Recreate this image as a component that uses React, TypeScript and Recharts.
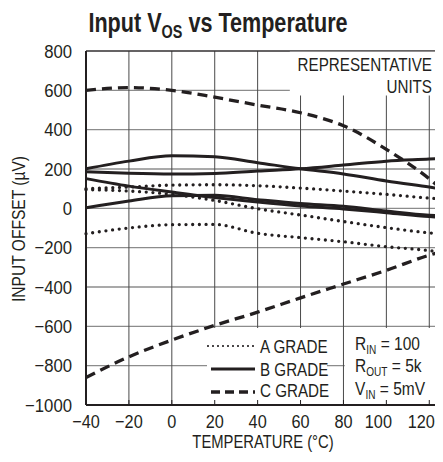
import {
  CartesianGrid,
  Line,
  LineChart,
  ReferenceArea,
  ReferenceLine,
  XAxis,
  YAxis,
} from "recharts";

const FONT = '"Liberation Sans", Arial, sans-serif';
const INK = "#231f20";

// temperature (°C) and offset (µV)
const temperatures = [-40, -20, 0, 20, 40, 60, 80, 100, 120, 125];
const gradeA1 = [100, 108, 118, 120, 115, 103, 88, 71, 52, 48];
const gradeA2 = [95, 88, 71, 40, -2, -34, -67, -98, -125, -130];
const gradeA3 = [-129, -100, -83, -82, -127, -149, -170, -195, -215, -222];
const gradeB1 = [201, 240, 267, 262, 232, 201, 175, 139, 108, 100];
const gradeB2 = [186, 178, 174, 177, 190, 201, 220, 240, 251, 254];
const gradeB3 = [151, 113, 83, 55, 32, 12, -3, -22, -42, -46];
const gradeB4 = [3, 37, 64, 66, 44, 24, 10, -14, -35, -38];
const gradeC1 = [600, 614, 600, 565, 525, 486, 420, 300, 150, 105];
const gradeC2 = [-860, -755, -670, -595, -528, -455, -385, -315, -238, -222];

const xTicks = [-40, -20, 0, 20, 40, 60, 80, 100, 120];
const yTicks = [-1000, -800, -600, -400, -200, 0, 200, 400, 600, 800];

const data = temperatures.map((t, i) => ({
  t,
  a1: gradeA1[i],
  a2: gradeA2[i],
  a3: gradeA3[i],
  b1: gradeB1[i],
  b2: gradeB2[i],
  b3: gradeB3[i],
  b4: gradeB4[i],
  c1: gradeC1[i],
  c2: gradeC2[i],
}));

const fmt = (v: number) => (v < 0 ? "\u2212" + Math.abs(v) : String(v));

const dotted = { strokeWidth: 3.3, strokeDasharray: "0 6.7", strokeLinecap: "round" as const };
const solid = { strokeWidth: 3 };
const dashed = { strokeWidth: 3.3, strokeDasharray: "10 6" };

// condensed look: Arial metrics squeezed horizontally
const Narrow = ({ x, y, size = 19, sx = 0.8, anchor = "start", weight, rotate, children }: any) => (
  <text
    transform={`translate(${x} ${y})${rotate ? ` rotate(${rotate})` : ""} scale(${sx} 1)`}
    fontSize={size}
    fontWeight={weight}
    textAnchor={anchor}
    fontFamily={FONT}
    fill={INK}
  >
    {children}
  </text>
);

// the last two labels sit a little left of their grid lines in the original
const xShift = (v: number) => (v >= 100 ? -8 : 0);

const XTick = ({ x, y, payload }: any) => (
  <text
    transform={`translate(${x + xShift(payload.value)} ${y}) scale(0.88 1)`}
    dy={12.5}
    textAnchor="middle"
    fontSize={18.5}
    fontFamily={FONT}
    fill={INK}
  >
    {fmt(payload.value)}
  </text>
);

const YTick = ({ x, y, payload }: any) => (
  <text
    transform={`translate(${x} ${y}) scale(0.88 1)`}
    dy={6.8}
    textAnchor="end"
    fontSize={19}
    fontFamily={FONT}
    fill={INK}
  >
    {fmt(payload.value)}
  </text>
);

export default function App() {
  return (
    <div style={{ position: "relative", width: 435, height: 454 }}>
      <LineChart
        width={435}
        height={454}
        data={data}
        margin={{ top: 43, right: 3, left: 0, bottom: 0 }}
      >
        <CartesianGrid vertical={false} stroke="#8c8c8c" strokeWidth={1.3} />
        <CartesianGrid horizontal={false} stroke="#4a4a4a" strokeWidth={1} />
        <ReferenceArea x1={55} x2={125} y1={574} y2={800} fill="#fff" fillOpacity={1} stroke="none" />
        <ReferenceArea x1={16.4} x2={72.3} y1={-1000} y2={-608} fill="#fff" fillOpacity={1} stroke="none" />
        <ReferenceArea x1={80.6} x2={125} y1={-1000} y2={-608} fill="#fff" fillOpacity={1} stroke="none" />
        <ReferenceLine y={800} stroke={INK} strokeWidth={1.2} />
        <ReferenceLine x={125} stroke={INK} strokeWidth={1.5} />
        <XAxis
          dataKey="t"
          type="number"
          domain={[-40, 125]}
          ticks={xTicks}
          height={57}
          tickSize={-5}
          tickMargin={15}
          axisLine={{ stroke: INK, strokeWidth: 2 }}
          tickLine={{ stroke: INK }}
          tick={<XTick />}
        />
        <XAxis
          xAxisId="top"
          orientation="top"
          dataKey="t"
          type="number"
          domain={[-40, 125]}
          ticks={xTicks}
          height={0}
          tickSize={-5}
          tick={false}
          axisLine={false}
          tickLine={{ stroke: INK }}
        />
        <YAxis
          type="number"
          domain={[-1000, 800]}
          ticks={yTicks}
          width={78}
          tickSize={0}
          tickMargin={14}
          axisLine={{ stroke: INK, strokeWidth: 2 }}
          tick={<YTick />}
        />
        <Line dataKey="a1" type="monotone" stroke={INK} dot={false} isAnimationActive={false} {...dotted} />
        <Line dataKey="a2" type="monotone" stroke={INK} dot={false} isAnimationActive={false} {...dotted} />
        <Line dataKey="a3" type="monotone" stroke={INK} dot={false} isAnimationActive={false} {...dotted} />
        <Line dataKey="b1" type="monotone" stroke={INK} dot={false} isAnimationActive={false} {...solid} />
        <Line dataKey="b2" type="monotone" stroke={INK} dot={false} isAnimationActive={false} {...solid} />
        <Line dataKey="b3" type="monotone" stroke={INK} dot={false} isAnimationActive={false} {...solid} />
        <Line dataKey="b4" type="monotone" stroke={INK} dot={false} isAnimationActive={false} {...solid} />
        <Line dataKey="c1" type="monotone" stroke={INK} dot={false} isAnimationActive={false} {...dashed} />
        <Line dataKey="c2" type="monotone" stroke={INK} dot={false} isAnimationActive={false} {...dashed} />
      </LineChart>

      {/* title, axis titles, legend and notes */}
      <svg
        width={435}
        height={454}
        style={{ position: "absolute", left: 0, top: 0, pointerEvents: "none" }}
      >
        <Narrow x={210} y={24} size={27} sx={0.8} anchor="middle" weight="bold">
          Input V
          <tspan dy={6} fontSize={18}>OS</tspan>
          <tspan dy={-6}> vs Temperature</tspan>
        </Narrow>

        <Narrow x={255} y={440} size={18.5} anchor="middle">TEMPERATURE (°C)</Narrow>
        <Narrow x={17} y={221} anchor="middle" rotate={-90} sx={0.82}>INPUT OFFSET (µV)</Narrow>

        <Narrow x={424} y={63} anchor="end">REPRESENTATIVE</Narrow>
        <Narrow x={424} y={85} anchor="end">UNITS</Narrow>

        <line x1={200} y1={338} x2={249} y2={338} stroke={INK} strokeWidth={2.2} strokeDasharray="0 5" strokeLinecap="round" />
        <line x1={203} y1={361} x2={247} y2={361} stroke={INK} strokeWidth={3} />
        <line x1={203} y1={384} x2={247} y2={384} stroke={INK} strokeWidth={3.3} strokeDasharray="9 5" />
        <Narrow x={252} y={345}>A GRADE</Narrow>
        <Narrow x={252} y={368}>B GRADE</Narrow>
        <Narrow x={252} y={389}>C GRADE</Narrow>

        <Narrow x={347} y={342} size={18.5} sx={0.84}>
          R<tspan dy={3.5} fontSize={12}>IN</tspan>
          <tspan dy={-3.5}> = 100</tspan>
        </Narrow>
        <Narrow x={347} y={364} size={18.5} sx={0.84}>
          R<tspan dy={3.5} fontSize={12}>OUT</tspan>
          <tspan dy={-3.5}> = 5k</tspan>
        </Narrow>
        <Narrow x={347} y={387} size={18.5} sx={0.84}>
          V<tspan dy={3.5} fontSize={12}>IN</tspan>
          <tspan dy={-3.5}> = 5mV</tspan>
        </Narrow>
      </svg>
    </div>
  );
}
